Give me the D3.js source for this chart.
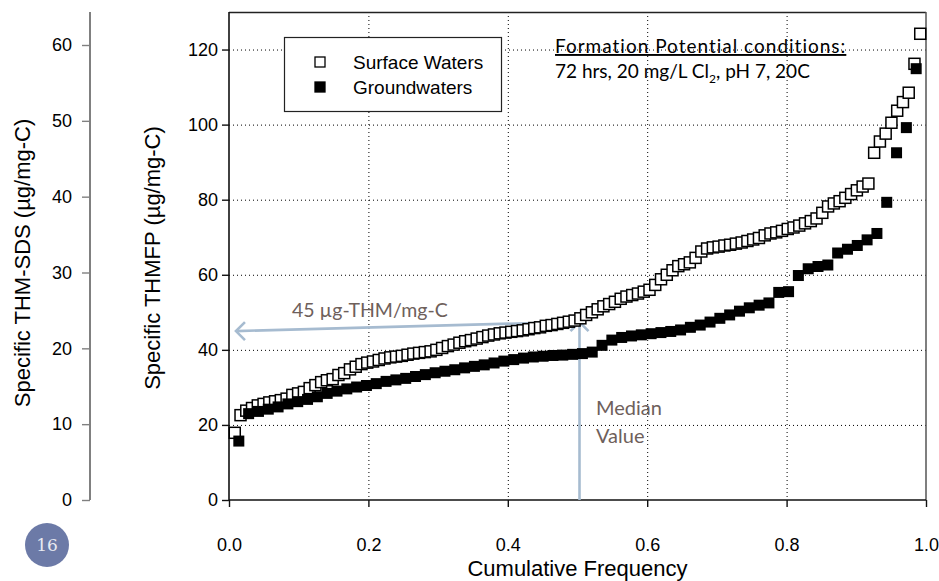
<!DOCTYPE html>
<html>
<head>
<meta charset="utf-8">
<title>Specific THMFP cumulative frequency</title>
<script src="https://cdn.jsdelivr.net/npm/d3@7"></script>
<style>
  body { margin: 0; background: #fff; }
  svg { display: block; }
</style>
</head>
<body>
<script>
// sorted values (ug/mg-C), plotted against cumulative frequency
var surfaceWaters = [17.9, 22.6, 23.8, 24.5, 25.2, 25.6, 26.0, 26.3, 26.6, 27.0,
  28.0, 28.4, 28.8, 29.8, 30.6, 31.4, 31.9, 32.2, 33.3, 33.8,
  34.8, 35.5, 36.2, 36.6, 36.9, 37.3, 37.7, 38.0, 38.2, 38.4,
  38.7, 39.0, 39.2, 39.4, 39.6, 40.0, 40.5, 41.0, 41.4, 41.9,
  42.3, 42.6, 43.0, 43.4, 43.8, 44.1, 44.4, 44.6, 44.8, 45.0,
  45.2, 45.5, 45.8, 46.0, 46.4, 46.6, 46.9, 47.2, 47.5, 47.8,
  48.4, 49.3, 50.0, 50.8, 51.6, 52.2, 52.8, 53.6, 54.2, 54.6,
  55.0, 55.5, 56.0, 57.3, 58.8, 60.0, 61.2, 62.3, 62.8, 63.3,
  64.5, 66.2, 67.0, 67.3, 67.5, 67.8, 68.0, 68.3, 68.6, 69.0,
  69.4, 69.8, 70.5, 71.0, 71.3, 71.7, 72.2, 72.6, 73.1, 73.7,
  74.3, 75.0, 76.5, 78.2, 79.0, 79.6, 80.5, 81.5, 82.5, 83.5,
  84.3, 92.5, 95.5, 97.6, 100.5, 103.7, 106.0, 108.5, 116.2, 124.2];

var groundwaters = [15.7, 23.0, 23.6, 24.2, 24.8, 25.6, 26.2, 26.8, 27.5, 28.4,
  29.0, 29.6, 30.1, 30.5, 31.0, 31.6, 32.0, 32.4, 32.9, 33.4,
  33.9, 34.3, 34.7, 35.2, 35.6, 36.0, 36.5, 37.0, 37.4, 37.8,
  38.1, 38.3, 38.5, 38.6, 38.8, 39.0, 39.4, 41.2, 42.6, 43.3,
  43.7, 44.0, 44.3, 44.6, 44.9, 45.3, 46.0, 46.6, 47.4, 48.4,
  49.3, 50.3, 51.2, 51.9, 52.5, 55.3, 55.5, 59.8, 61.6, 62.2,
  62.6, 65.8, 66.8, 67.8, 69.3, 71.0, 79.3, 92.5, 99.2, 114.9];

var xTicks = [0, 0.2, 0.4, 0.6, 0.8, 1.0];
var yTicks = [0, 20, 40, 60, 80, 100, 120];
var y2Ticks = [0, 10, 20, 30, 40, 50, 60];
var seriesNames = ["Surface Waters", "Groundwaters"];
var medianFreq = 0.5;
var medianValue = 45;

var W = 939, H = 581;
var pL = 229, pR = 926, pT = 12, pB = 500;
var arrowCol = "#a6bbd0", noteCol = "#6e605b";
var sansFont = "'Liberation Sans', Arial, sans-serif";

var svg = d3.select("body").append("svg").attr("width", W).attr("height", H);

var x = d3.scaleLinear().domain([0, 1]).range([pL, pR]);
var y = d3.scaleLinear().domain([0, 130]).range([pB, pT]);
var y2 = d3.scaleLinear().domain([0, 60]).range([pB, 45]);

// cumulative frequency of each ranked value
function cumul(arr) {
  return arr.map(function(v, i) { return {f: (i + 1) / (arr.length + 1), v: v}; });
}

// grid
var grid = svg.append("g").attr("stroke", "#000").attr("stroke-width", 1).attr("stroke-dasharray", "1,3");
grid.selectAll("line.h").data(yTicks.slice(1)).enter().append("line")
  .attr("x1", pL).attr("x2", pR).attr("y1", function(d) { return y(d) + 0.5; }).attr("y2", function(d) { return y(d) + 0.5; });
grid.selectAll("line.v").data(xTicks.slice(1, -1)).enter().append("line")
  .attr("y1", pT).attr("y2", pB).attr("x1", function(d) { return x(d) + 0.5; }).attr("x2", function(d) { return x(d) + 0.5; });

// frame
svg.append("line").attr("x1", pL).attr("x2", pR).attr("y1", pT + 0.5).attr("y2", pT + 0.5).attr("stroke", "#222").attr("stroke-width", 1.5);
svg.append("line").attr("x1", pR).attr("x2", pR).attr("y1", pT).attr("y2", pB).attr("stroke", "#555").attr("stroke-width", 1.5);

// axes
var xAxis = svg.append("g").attr("transform", "translate(0," + pB + ")")
  .call(d3.axisBottom(x).tickValues(xTicks).tickFormat(d3.format(".1f")).tickSize(7).tickPadding(31));
var yAxis = svg.append("g").attr("transform", "translate(" + pL + ",0)")
  .call(d3.axisLeft(y).tickValues(yTicks).tickSize(7).tickPadding(4));
var y2Axis = svg.append("g").attr("transform", "translate(90,0)")
  .call(d3.axisLeft(y2).tickValues(y2Ticks).tickSize(8).tickPadding(10));

[xAxis, yAxis, y2Axis].forEach(function(a) {
  a.attr("font-family", sansFont).attr("font-size", 18);
  a.selectAll(".tick text").attr("fill", "#000");
  a.select(".domain").attr("stroke", "#111").attr("stroke-width", 1.6);
  a.selectAll(".tick line").attr("stroke", "#111").attr("stroke-width", 1.4);
});
yAxis.select(".domain").attr("d", "M0," + pB + "V" + pT);
xAxis.select(".domain").attr("d", "M" + pL + ",0H" + pR);
y2Axis.select(".domain").attr("d", "M0," + pB + "V" + pT).attr("stroke", "#808080").attr("stroke-width", 2);
y2Axis.selectAll(".tick line").attr("stroke", "#808080");

// axis titles
svg.append("text").attr("x", (pL + pR) / 2).attr("y", 576)
  .attr("text-anchor", "middle").style("font", "22px " + sansFont)
  .text("Cumulative Frequency");
svg.append("text").attr("transform", "translate(152,258) rotate(-90)").attr("dy", "0.35em")
  .attr("text-anchor", "middle").style("font", "22px " + sansFont)
  .text("Specific THMFP (\u00b5g/mg-C)");
svg.append("text").attr("transform", "translate(22,263) rotate(-90)").attr("dy", "0.35em")
  .attr("text-anchor", "middle").style("font", "22px " + sansFont)
  .text("Specific THM-SDS (\u00b5g/mg-C)");

// median arrows
function chevron(px, py, dir) {
  var s = 9;
  if (dir == "up") return "M" + (px - s) + "," + (py + s) + "L" + px + "," + py + "L" + (px + s) + "," + (py + s);
  return "M" + (px + s) + "," + (py - s) + "L" + px + "," + py + "L" + (px + s) + "," + (py + s);
}
var arr = svg.append("g").attr("stroke", arrowCol).attr("stroke-width", 2.6).attr("fill", "none");
arr.append("line").attr("x1", x(medianFreq) + 2).attr("x2", x(medianFreq) + 2).attr("y1", pB).attr("y2", y(47.4));
arr.append("path").attr("d", chevron(x(medianFreq) + 2, y(47.4), "up"));
arr.append("line").attr("x1", x(0.508)).attr("y1", y(47.5)).attr("x2", x(0.01)).attr("y2", y(medianValue));
arr.append("path").attr("d", chevron(x(0.01), y(medianValue), "left"));

// points
var sq = 11;
svg.append("g").selectAll("rect").data(cumul(surfaceWaters)).enter().append("rect")
  .attr("x", function(d) { return x(d.f) - sq / 2; })
  .attr("y", function(d) { return y(d.v) - sq / 2; })
  .attr("width", sq).attr("height", sq)
  .attr("fill", "#fff").attr("stroke", "#000").attr("stroke-width", 1.5);
svg.append("g").selectAll("rect").data(cumul(groundwaters)).enter().append("rect")
  .attr("x", function(d) { return x(d.f) - sq / 2; })
  .attr("y", function(d) { return y(d.v) - sq / 2; })
  .attr("width", sq).attr("height", sq)
  .attr("fill", "#000");

// legend
var lg = svg.append("g");
lg.append("rect").attr("x", 284.5).attr("y", 37.5).attr("width", 217).attr("height", 74)
  .attr("fill", "#fff").attr("stroke", "#222").attr("stroke-width", 1.2);
seriesNames.forEach(function(name, i) {
  var cy = 62 + i * 25;
  lg.append("rect").attr("x", 315).attr("y", cy - 5).attr("width", 10).attr("height", 10)
    .attr("fill", i == 0 ? "#fff" : "#000").attr("stroke", "#000").attr("stroke-width", 1.3);
  lg.append("text").attr("x", 353).attr("y", cy + 7)
    .style("font", "19px " + sansFont).text(name);
});

// notes
var note = svg.append("g").style("font-family", "Lato, 'Open Sans', sans-serif").style("font-size", "19px");
note.append("text").attr("x", 555).attr("y", 53).attr("text-decoration", "underline")
  .style("letter-spacing", "1px")
  .text("Formation Potential conditions:");
var t2 = note.append("text").attr("x", 555).attr("y", 78);
t2.append("tspan").text("72 hrs, 20 mg/L Cl");
t2.append("tspan").attr("dy", 5).style("font-size", "12px").text("2");
t2.append("tspan").attr("dy", -5).text(", pH 7, 20C");

note.append("text").attr("x", 292).attr("y", 317).attr("fill", noteCol).style("font-size", "19.5px")
  .text("45 \u00b5g-THM/mg-C");
note.append("text").attr("x", 596).attr("y", 415).attr("fill", noteCol).style("font-size", "20px").text("Median");
note.append("text").attr("x", 596).attr("y", 443).attr("fill", noteCol).style("font-size", "20px").text("Value");

// slide number
svg.append("circle").attr("cx", 47).attr("cy", 545).attr("r", 22).attr("fill", "#6c7aa7");
svg.append("text").attr("x", 47).attr("y", 551).attr("text-anchor", "middle")
  .style("font", "17px 'DejaVu Serif', 'Liberation Serif', serif").attr("fill", "#e8eaf2").text("16");
</script>
</body>
</html>
